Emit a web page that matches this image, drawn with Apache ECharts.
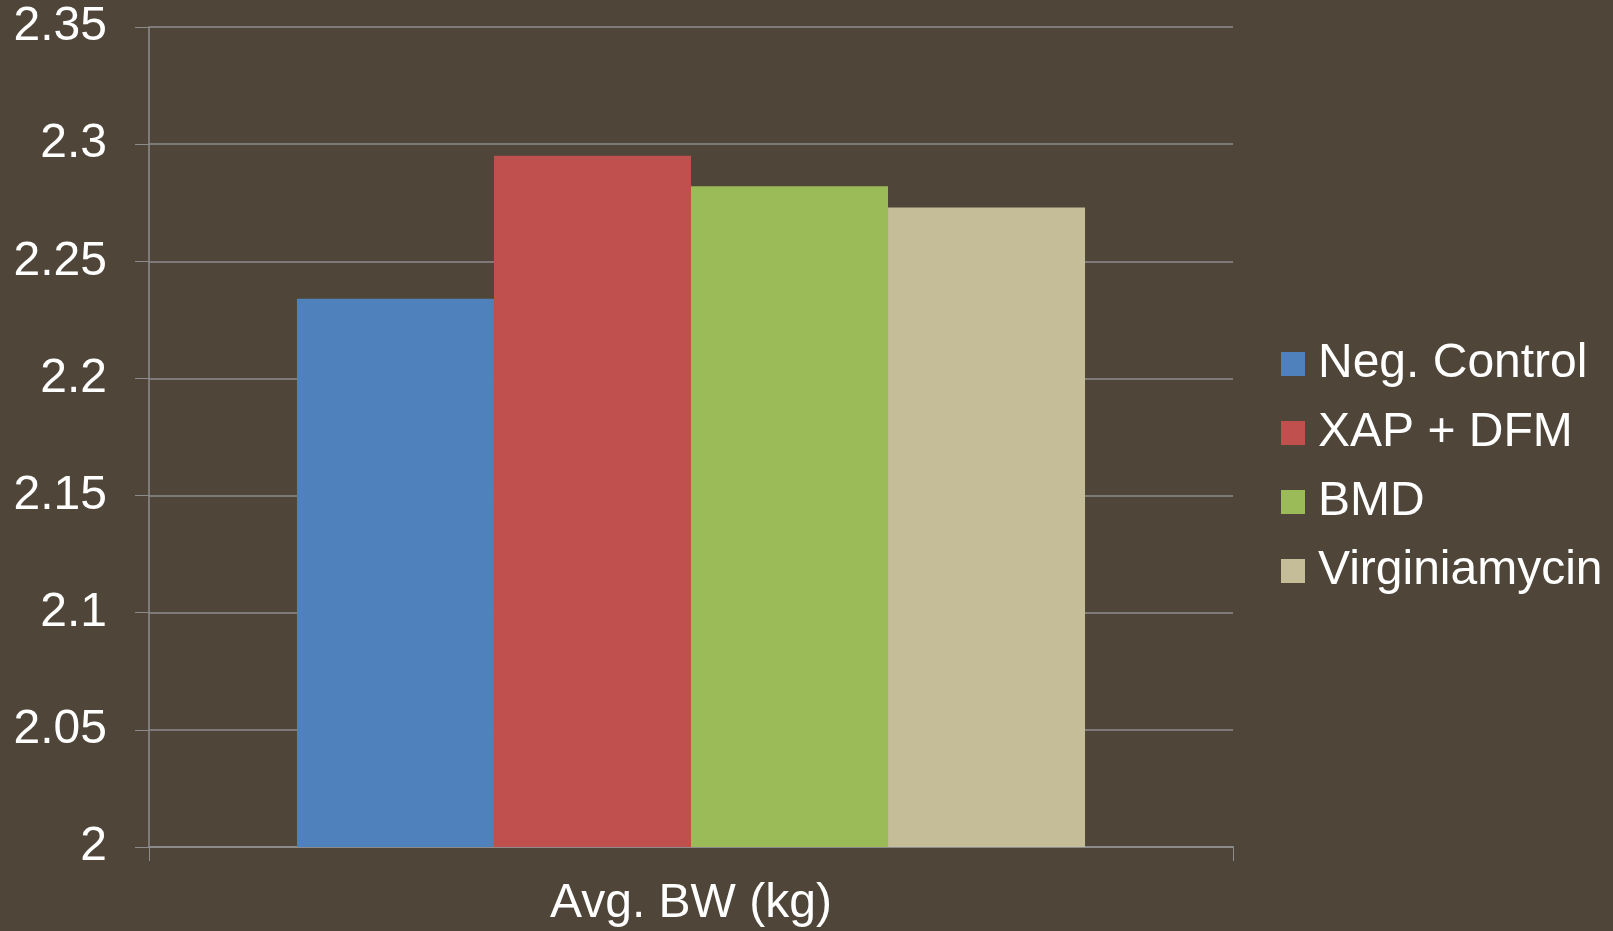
<!DOCTYPE html>
<html>
<head>
<meta charset="utf-8">
<script src="https://cdn.jsdelivr.net/npm/echarts@6/dist/echarts.min.js"></script>
<style>
  html, body { margin: 0; padding: 0; background: #4f4639; }
  #chart { width: 1613px; height: 931px; }
</style>
</head>
<body>
<div id="chart"></div>
<script>
// data
const categories = ['Avg. BW (kg)']
const seriesNames = ['Neg. Control', 'XAP + DFM', 'BMD', 'Virginiamycin']
const seriesValues = [[2.234], [2.295], [2.282], [2.273]]
const colors = ['#4f81bd', '#c0504d', '#9bbb59', '#c4bd97']

const font = 'Liberation Sans, Arial, sans-serif'
const chart = echarts.init(document.getElementById('chart'))

chart.setOption({
  backgroundColor: '#4f4639',
  animation: false,
  grid: {
    left: 149,
    right: 380,
    top: 27,
    bottom: 84
  },
  legend: {
    orient: 'vertical',
    left: 1281,
    top: 338,
    padding: 0,
    itemWidth: 24,
    itemHeight: 24,
    itemGap: 17,
    icon: 'rect',
    data: seriesNames,
    textStyle: {
      color: '#ffffff',
      fontSize: 48,
      fontFamily: font,
      lineHeight: 52,
      padding: [0, 0, 0, 8]
    }
  },
  xAxis: {
    type: 'category',
    data: categories,
    axisLine: { lineStyle: { color: '#8c8c8c', width: 2 } },
    axisTick: { show: true, length: 14, lineStyle: { color: '#8c8c8c' } },
    axisLabel: {
      color: '#ffffff',
      fontSize: 48,
      fontFamily: font,
      margin: 33
    }
  },
  yAxis: {
    type: 'value',
    min: 2,
    max: 2.35,
    interval: 0.05,
    axisLine: { show: true, lineStyle: { color: '#8c8c8c', width: 1.5 } },
    axisTick: { show: true, length: 14, lineStyle: { color: '#8c8c8c' } },
    splitLine: { lineStyle: { color: '#8c8c8c', width: 1.5 } },
    axisLabel: {
      color: '#ffffff',
      fontSize: 48,
      fontFamily: font,
      margin: 42,
      formatter: v => String(Math.round(v * 100) / 100)
    }
  },
  series: seriesNames.map((name, i) => ({
    name: name,
    type: 'bar',
    data: seriesValues[i],
    barGap: '0%',
    barCategoryGap: '27.3%',
    itemStyle: { color: colors[i] }
  }))
})
</script>
</body>
</html>
